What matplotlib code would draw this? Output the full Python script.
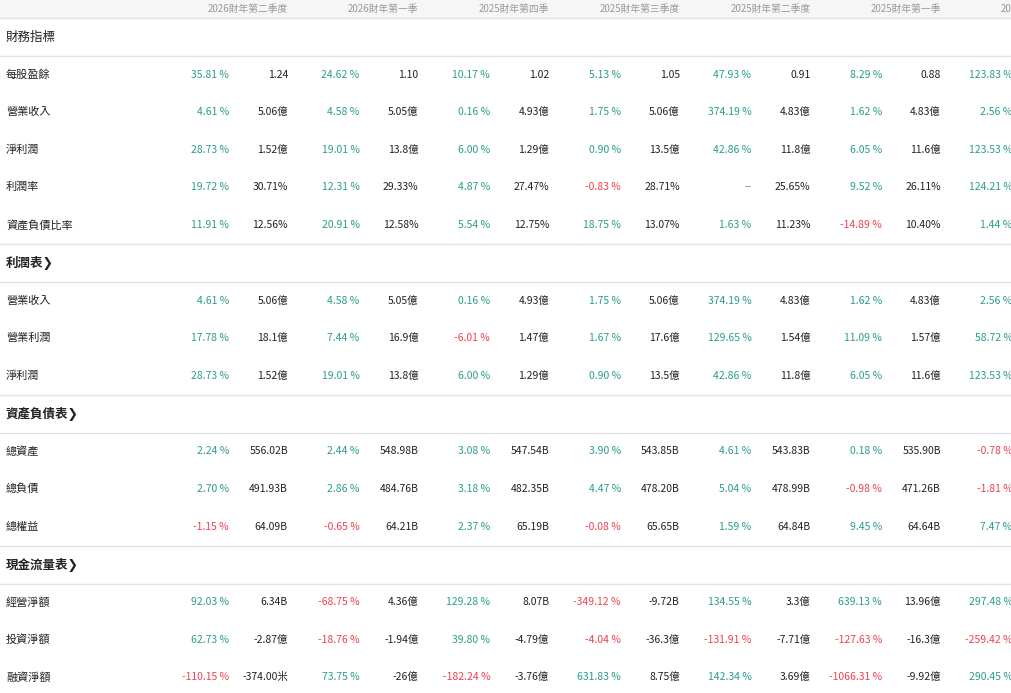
import matplotlib.pyplot as plt

plt.rcParams['font.family'] = ['Noto Sans CJK TC', 'DejaVu Sans']

quarters = ['2026財年第二季度', '2026財年第一季', '2025財年第四季', '2025財年第三季度',
            '2025財年第二季度', '2025財年第一季', '2024財年第四季']

sections = ['財務指標', '利潤表', '資產負債表', '現金流量表']
rows = [
    ['每股盈餘', '營業收入', '淨利潤', '利潤率', '資產負債比率'],
    ['營業收入', '營業利潤', '淨利潤'],
    ['總資產', '總負債', '總權益'],
    ['經營淨額', '投資淨額', '融資淨額'],
]

# pct change per row, per quarter
pcts = [
    ['35.81 %', '24.62 %', '10.17 %', '5.13 %', '47.93 %', '8.29 %', '123.83 %'],
    ['4.61 %', '4.58 %', '0.16 %', '1.75 %', '374.19 %', '1.62 %', '2.56 %'],
    ['28.73 %', '19.01 %', '6.00 %', '0.90 %', '42.86 %', '6.05 %', '123.53 %'],
    ['19.72 %', '12.31 %', '4.87 %', '-0.83 %', '--', '9.52 %', '124.21 %'],
    ['11.91 %', '20.91 %', '5.54 %', '18.75 %', '1.63 %', '-14.89 %', '1.44 %'],
    ['4.61 %', '4.58 %', '0.16 %', '1.75 %', '374.19 %', '1.62 %', '2.56 %'],
    ['17.78 %', '7.44 %', '-6.01 %', '1.67 %', '129.65 %', '11.09 %', '58.72 %'],
    ['28.73 %', '19.01 %', '6.00 %', '0.90 %', '42.86 %', '6.05 %', '123.53 %'],
    ['2.24 %', '2.44 %', '3.08 %', '3.90 %', '4.61 %', '0.18 %', '-0.78 %'],
    ['2.70 %', '2.86 %', '3.18 %', '4.47 %', '5.04 %', '-0.98 %', '-1.81 %'],
    ['-1.15 %', '-0.65 %', '2.37 %', '-0.08 %', '1.59 %', '9.45 %', '7.47 %'],
    ['92.03 %', '-68.75 %', '129.28 %', '-349.12 %', '134.55 %', '639.13 %', '297.48 %'],
    ['62.73 %', '-18.76 %', '39.80 %', '-4.04 %', '-131.91 %', '-127.63 %', '-259.42 %'],
    ['-110.15 %', '73.75 %', '-182.24 %', '631.83 %', '142.34 %', '-1066.31 %', '290.45 %'],
]

values = [
    ['1.24', '1.10', '1.02', '1.05', '0.91', '0.88'],
    ['5.06億', '5.05億', '4.93億', '5.06億', '4.83億', '4.83億'],
    ['1.52億', '13.8億', '1.29億', '13.5億', '11.8億', '11.6億'],
    ['30.71%', '29.33%', '27.47%', '28.71%', '25.65%', '26.11%'],
    ['12.56%', '12.58%', '12.75%', '13.07%', '11.23%', '10.40%'],
    ['5.06億', '5.05億', '4.93億', '5.06億', '4.83億', '4.83億'],
    ['18.1億', '16.9億', '1.47億', '17.6億', '1.54億', '1.57億'],
    ['1.52億', '13.8億', '1.29億', '13.5億', '11.8億', '11.6億'],
    ['556.02B', '548.98B', '547.54B', '543.85B', '543.83B', '535.90B'],
    ['491.93B', '484.76B', '482.35B', '478.20B', '478.99B', '471.26B'],
    ['64.09B', '64.21B', '65.19B', '65.65B', '64.84B', '64.64B'],
    ['6.34B', '4.36億', '8.07B', '-9.72B', '3.3億', '13.96億'],
    ['-2.87億', '-1.94億', '-4.79億', '-36.3億', '-7.71億', '-16.3億'],
    ['-374.00米', '-26億', '-3.76億', '8.75億', '3.69億', '-9.92億'],
]

GREEN = '#2a9d8a'
RED = '#f0404e'
LINE = '#e2e2ea'

W, H = 1012, 693
fig = plt.figure(figsize=(W / 100, H / 100), dpi=100)
ax = fig.add_axes([0, 0, 1, 1])
ax.set_xlim(0, W)
ax.set_ylim(H, 0)
ax.axis('off')

pct_x = [229 + 130.6 * i for i in range(7)]
val_x = [288 + 130.6 * i for i in range(7)]

# header band
ax.axhspan(0, 18, color='#f6f6f6', zorder=0)
ax.axhline(18, color=LINE, lw=1)
for i, q in enumerate(quarters):
    ax.text(val_x[i], 9, q, ha='right', va='center', fontsize=7, color='#999999',
            clip_on=True)

y = 18
r = 0
for s, name in enumerate(sections):
    label = name if s == 0 else name + '❯'
    ax.text(6, y + 19, label, ha='left', va='center', fontsize=9, color='#222222',
            fontweight='bold' if s else 'normal')
    y += 38
    ax.axhline(y, color=LINE, lw=1)
    for rname in rows[s]:
        yc = y + 18.5
        ax.text(6, yc, rname, ha='left', va='center', fontsize=8, color='#222222')
        for i in range(7):
            p = pcts[r][i]
            c = RED if p.startswith('-') and p != '--' else (GREEN if p != '--' else '#888888')
            ax.text(pct_x[i], yc, p, ha='right', va='center', fontsize=7.5, color=c)
        for i, v in enumerate(values[r]):
            ax.text(val_x[i], yc, v, ha='right', va='center', fontsize=7.5, color='#222222')
        y += 37.6
        r += 1
    if s < len(sections) - 1:
        ax.axhline(y, color=LINE, lw=1)

fig.savefig('out.png', dpi=100)
